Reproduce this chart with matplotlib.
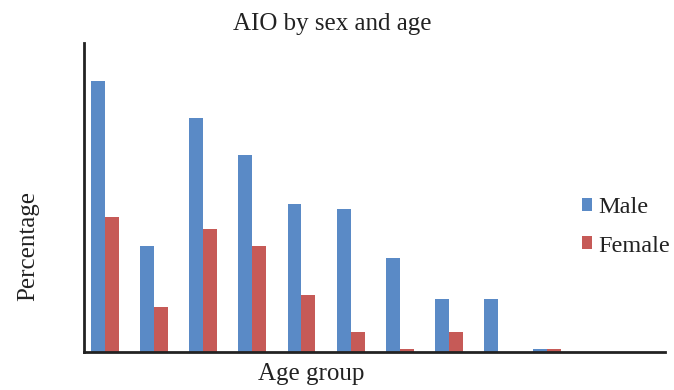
import matplotlib
matplotlib.use("Agg")
import matplotlib.pyplot as plt
import numpy as np

# bar heights (no scale printed on the chart)
age_groups = ["G1", "G2", "G3", "G4", "G5", "G6", "G7", "G8", "G9", "G10"]
male = [27.1, 10.6, 23.4, 19.7, 14.8, 14.3, 9.4, 5.3, 5.3, 0.3]
female = [13.5, 4.5, 12.3, 10.6, 5.7, 2.0, 0.3, 2.0, 0.0, 0.3]

plt.rcParams['font.family'] = ['Liberation Serif', 'DejaVu Serif']

fig = plt.figure(figsize=(6.74, 3.9), dpi=100)
ax = fig.add_axes([0.1246, 0.0974, 0.862, 0.7923])

x = np.arange(len(age_groups))
w = 0.285
ax.bar(x - w / 2, male, w, color='#5A8AC6', label='Male')
ax.bar(x + w / 2, female, w, color='#C65A57', label='Female')

ax.set_xlim(-0.434, 11.41)
ax.set_ylim(0, 30.9)
ax.set_xticks([])
ax.set_yticks([])
for s in ['top', 'right']:
    ax.spines[s].set_visible(False)
for s in ['left', 'bottom']:
    ax.spines[s].set_linewidth(2)
    ax.spines[s].set_color('#222222')

fig.text(0.4926, 0.923, 'AIO by sex and age', ha='center', va='baseline', fontsize=18, color='#222222')
fig.text(0.462, 0.0256, 'Age group', ha='center', va='baseline', fontsize=18, color='#222222')
fig.text(0.0415, 0.37, 'Percentage', ha='center', va='center', rotation=90, fontsize=18, color='#222222')

leg = ax.legend(loc='upper left', bbox_to_anchor=(582 / 674, 1 - 197 / 390),
                bbox_transform=fig.transFigure, frameon=False,
                fontsize=17.5, handlelength=0.43, handleheight=0.43,
                handletextpad=0.22, labelspacing=0.72, borderpad=0, borderaxespad=0)
for t in leg.get_texts():
    t.set_color('#222222')

fig.savefig('out.png', dpi=100)
